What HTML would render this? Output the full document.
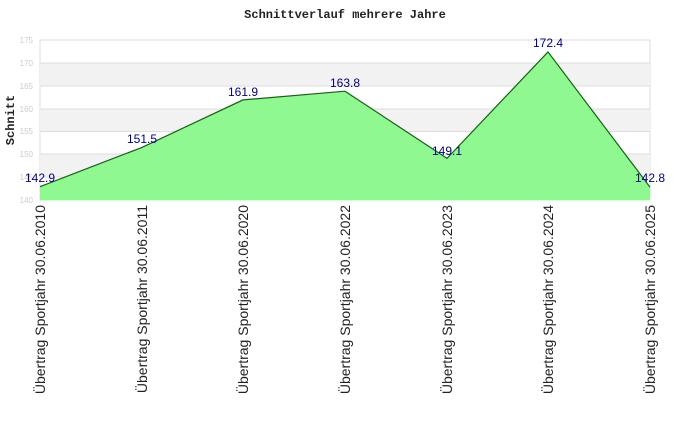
<!DOCTYPE html>
<html><head><meta charset="utf-8"><style>body{margin:0;background:#fff}</style></head><body>
<svg width="690" height="420" xmlns="http://www.w3.org/2000/svg">
<rect width="690" height="420" fill="#fff"/>
<text x="345" y="18" text-anchor="middle" font-family="Liberation Mono, monospace" font-weight="bold" font-size="12" fill="#222">Schnittverlauf mehrere Jahre</text>
<g>
<rect x="40" y="40" width="610" height="160" fill="#fff" stroke="#ddd"/>
<rect x="40" y="63" width="610" height="23" fill="#f2f2f2"/>
<rect x="40" y="109" width="610" height="22.5" fill="#f2f2f2"/>
<rect x="40" y="154" width="610" height="23" fill="#f2f2f2"/>
<g stroke="#ddd" stroke-width="1">
<line x1="40" x2="650" y1="63" y2="63"/><line x1="40" x2="650" y1="86" y2="86"/>
<line x1="40" x2="650" y1="109" y2="109"/><line x1="40" x2="650" y1="131.5" y2="131.5"/>
<line x1="40" x2="650" y1="154" y2="154"/><line x1="40" x2="650" y1="177" y2="177"/>
</g>
</g>
<g font-family="Liberation Sans, sans-serif" font-size="8" fill="#ccc" text-anchor="end">
<text x="33" y="43">175</text><text x="33" y="66">170</text><text x="33" y="89">165</text>
<text x="33" y="112">160</text><text x="33" y="134">155</text><text x="33" y="157">150</text>
<text x="33" y="180">145</text><text x="33" y="203">140</text>
</g>
<text transform="translate(14,120) rotate(-90)" text-anchor="middle" font-family="Liberation Mono, monospace" font-weight="bold" font-size="12" fill="#222">Schnitt</text>
<polygon points="40,186.7 142,147.4 243,99.9 345,91.2 447,158.4 548,51.9 650,187.2 650,200 40,200" fill="#90f890"/>
<polyline points="40,186.7 142,147.4 243,99.9 345,91.2 447,158.4 548,51.9 650,187.2" fill="none" stroke="#007000" stroke-width="1.2"/>
<g font-family="Liberation Sans, sans-serif" font-size="12" fill="#000080" text-anchor="middle">
<text x="40" y="182">142.9</text><text x="142" y="143">151.5</text><text x="243" y="96">161.9</text>
<text x="345" y="87">163.8</text><text x="447" y="155">149.1</text><text x="548" y="47">172.4</text>
<text x="650" y="182">142.8</text>
</g>
<g font-family="Liberation Sans, sans-serif" font-size="14" fill="#222" text-anchor="end">
<text transform="translate(45,205) rotate(-90)">Übertrag Sportjahr 30.06.2010</text>
<text transform="translate(147,205) rotate(-90)">Übertrag Sportjahr 30.06.2011</text>
<text transform="translate(248,205) rotate(-90)">Übertrag Sportjahr 30.06.2020</text>
<text transform="translate(350,205) rotate(-90)">Übertrag Sportjahr 30.06.2022</text>
<text transform="translate(452,205) rotate(-90)">Übertrag Sportjahr 30.06.2023</text>
<text transform="translate(553,205) rotate(-90)">Übertrag Sportjahr 30.06.2024</text>
<text transform="translate(655,205) rotate(-90)">Übertrag Sportjahr 30.06.2025</text>
</g>
</svg>
</body></html>
